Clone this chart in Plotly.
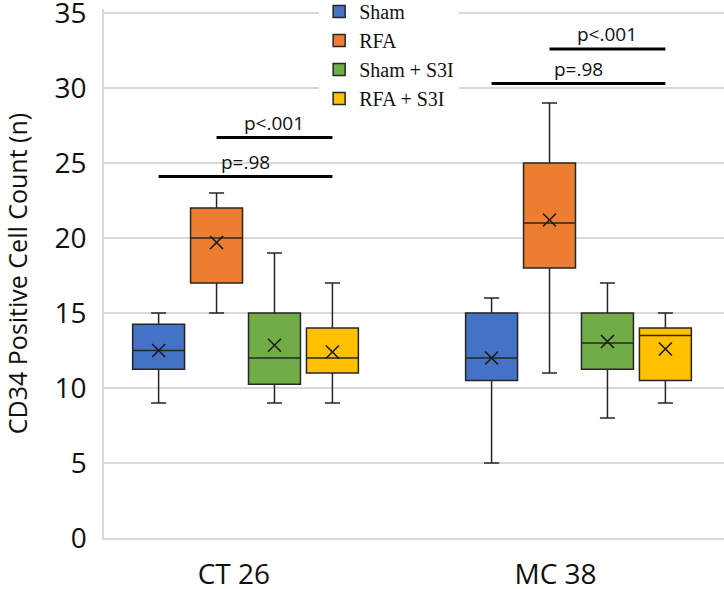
import plotly.graph_objects as go

categories = ["CT 26", "MC 38"]
series = ["Sham", "RFA", "Sham + S3I", "RFA + S3I"]
colors = ["#4472C4", "#ED7D31", "#70AD47", "#FFC000"]

# box statistics per series: [CT 26, MC 38]
lower = {"Sham": [9, 5], "RFA": [15, 11], "Sham + S3I": [9, 8], "RFA + S3I": [9, 9]}
q1 = {"Sham": [11.25, 10.5], "RFA": [17, 18], "Sham + S3I": [10.25, 11.25], "RFA + S3I": [11, 10.5]}
median = {"Sham": [12.5, 12], "RFA": [20, 21], "Sham + S3I": [12, 13], "RFA + S3I": [12, 13.5]}
q3 = {"Sham": [14.25, 15], "RFA": [22, 25], "Sham + S3I": [15, 15], "RFA + S3I": [14, 14]}
upper = {"Sham": [15, 16], "RFA": [23, 29], "Sham + S3I": [19, 17], "RFA + S3I": [17, 15]}
mean = {"Sham": [12.5, 12.0], "RFA": [19.7, 21.2], "Sham + S3I": [12.85, 13.1], "RFA + S3I": [12.4, 12.6]}

# significance brackets: (category index, from series, to series, y, label)
brackets = [
    (0, 0, 3, 24.1, "p=.98"),
    (0, 1, 3, 26.7, "p<.001"),
    (1, 0, 3, 30.3, "p=.98"),
    (1, 1, 3, 32.6, "p<.001"),
]

y_ticks = [0, 5, 10, 15, 20, 25, 30, 35]
category_label_pos = [-0.035, 0.931]

slot = 0.174
box_w = 0.156


def pos(cat, s):
    return cat + (s - 1.5) * slot


fig = go.Figure()
for s, name in enumerate(series):
    xs = [pos(c, s) for c in range(len(categories))]
    fig.add_trace(go.Box(
        name=name,
        x=xs,
        q1=q1[name], median=median[name], q3=q3[name],
        lowerfence=lower[name], upperfence=upper[name],
        width=box_w,
        fillcolor=colors[s],
        line=dict(color="#262626", width=1.5),
        whiskerwidth=0.29,
        boxpoints=False,
        hoverinfo="y",
    ))
for s, name in enumerate(series):
    xs = [pos(c, s) for c in range(len(categories))]
    fig.add_trace(go.Scatter(
        x=xs, y=mean[name], mode="markers", showlegend=False,
        marker=dict(symbol="x-thin", size=13, line=dict(color="#1a1a1a", width=1.6)),
    ))

for cat, s0, s1, yv, label in brackets:
    x0, x1 = pos(cat, s0), pos(cat, s1)
    fig.add_trace(go.Scatter(
        x=[x0, x1], y=[yv, yv], mode="lines", showlegend=False,
        line=dict(color="black", width=3), hoverinfo="skip",
    ))
    fig.add_annotation(
        x=(x0 + x1) / 2, y=yv, text=label, showarrow=False,
        yanchor="bottom", yshift=0,
        font=dict(family="Open Sans", size=19, color="#111111"),
    )

fig.update_layout(
    width=724, height=589,
    margin=dict(l=104, r=0, t=9, b=51, autoexpand=False),
    paper_bgcolor="white", plot_bgcolor="white",
    boxmode="overlay",
    showlegend=True,
    legend=dict(
        x=0.347, y=1.032, xanchor="left", yanchor="top",
        bgcolor="rgba(255,255,255,1)",
        font=dict(family="Liberation Serif", size=20, color="#111111"),
        itemwidth=30, tracegroupgap=0,
    ),
    font=dict(family="Open Sans", color="#111111"),
)
fig.update_xaxes(
    range=[-0.425, 1.437],
    tickvals=category_label_pos, ticktext=categories,
    tickfont=dict(size=28, family="Open Sans", color="#111111"),
    showgrid=False, zeroline=False,
    showline=True, linecolor="#d9d9d9", linewidth=1.5,
    ticks="", ticklabelstandoff=11,
)
fig.update_yaxes(
    range=[0, 35.27], tickvals=y_ticks,
    tickfont=dict(size=28, family="Open Sans", color="#111111"),
    showgrid=True, gridcolor="#d9d9d9", gridwidth=1.5,
    zeroline=False,
    showline=True, linecolor="#d9d9d9", linewidth=1.5,
    ticks="", ticklabelstandoff=10, ticklabeloverflow="allow",
    title=dict(text="CD34 Positive Cell Count (n)",
               font=dict(size=25, family="Open Sans", color="#111111"),
               standoff=31),
)

fig.write_html("out.html", config={"displayModeBar": False},
               post_script="document.body.style.margin='0px';")
